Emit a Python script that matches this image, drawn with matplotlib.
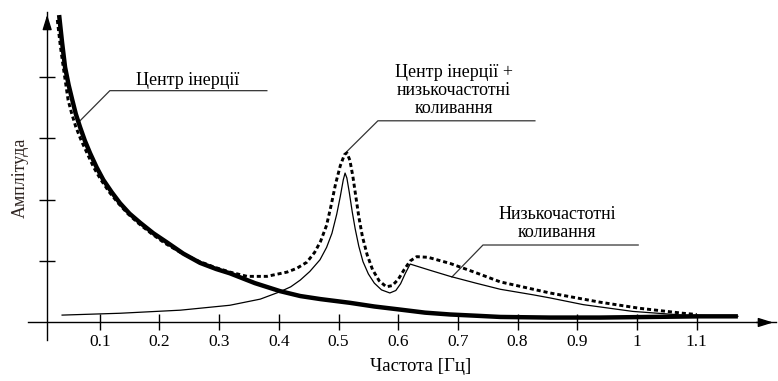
import matplotlib
matplotlib.use("Agg")
import matplotlib.pyplot as plt

plt.rcParams["font.family"] = ["Liberation Serif", "DejaVu Serif"]

# Центр інерції (thick solid)
inertia_f = [0.032, 0.037, 0.042, 0.048, 0.054, 0.060, 0.067, 0.075, 0.084,
             0.095, 0.106, 0.120, 0.134, 0.150, 0.168, 0.190, 0.213, 0.240,
             0.268, 0.295, 0.318, 0.360, 0.402, 0.436, 0.470, 0.519, 0.560,
             0.603, 0.645, 0.687, 0.730, 0.771, 0.854, 0.938, 1.022, 1.106, 1.169]
inertia_a = [5.00, 4.55, 4.15, 3.86, 3.62, 3.39, 3.18, 2.96, 2.75,
             2.52, 2.32, 2.12, 1.94, 1.77, 1.62, 1.45, 1.30, 1.12,
             0.97, 0.87, 0.80, 0.64, 0.51, 0.43, 0.38, 0.32, 0.26,
             0.21, 0.16, 0.13, 0.11, 0.09, 0.08, 0.08, 0.09, 0.10, 0.10]

# Низькочастотні коливання (thin solid)
lowfreq_f = [0.037, 0.134, 0.235, 0.318, 0.369, 0.402, 0.420, 0.436, 0.452,
             0.469, 0.480, 0.489, 0.497, 0.503, 0.508, 0.511, 0.514, 0.518,
             0.523, 0.528, 0.534, 0.541, 0.550, 0.560, 0.572, 0.586, 0.596,
             0.604, 0.612, 0.620, 0.653, 0.687, 0.730, 0.771, 0.826, 0.854,
             0.910, 0.993, 1.077, 1.169]
lowfreq_a = [0.12, 0.15, 0.20, 0.28, 0.38, 0.50, 0.58, 0.69, 0.83,
             1.02, 1.22, 1.45, 1.76, 2.05, 2.32, 2.43, 2.35, 2.12,
             1.80, 1.52, 1.24, 0.99, 0.79, 0.64, 0.53, 0.48, 0.52,
             0.63, 0.80, 0.95, 0.85, 0.75, 0.64, 0.54, 0.45, 0.40,
             0.29, 0.18, 0.12, 0.10]

# Центр інерції + низькочастотні коливання (dashed)
total_f = [0.029, 0.034, 0.039, 0.047, 0.053, 0.060, 0.069, 0.079, 0.090,
           0.102, 0.116, 0.131, 0.147, 0.164, 0.186, 0.209, 0.237, 0.265,
           0.292, 0.318, 0.347, 0.380, 0.414, 0.430, 0.447, 0.460, 0.470,
           0.480, 0.488, 0.495, 0.503, 0.510, 0.514, 0.519, 0.524, 0.529,
           0.534, 0.540, 0.548, 0.557, 0.568, 0.580, 0.590, 0.600, 0.610,
           0.620, 0.631, 0.650, 0.687, 0.730, 0.771, 0.854, 0.938, 1.005,
           1.077, 1.100]
total_a = [4.92, 4.50, 4.15, 3.62, 3.40, 3.18, 2.96, 2.75, 2.52,
           2.32, 2.12, 1.94, 1.77, 1.62, 1.45, 1.29, 1.13, 1.00,
           0.90, 0.82, 0.75, 0.75, 0.82, 0.88, 0.98, 1.14, 1.32,
           1.58, 1.92, 2.25, 2.55, 2.73, 2.76, 2.64, 2.38, 2.05,
           1.72, 1.40, 1.10, 0.86, 0.68, 0.58, 0.60, 0.70, 0.86,
           1.00, 1.07, 1.06, 0.96, 0.81, 0.66, 0.48, 0.33, 0.23,
           0.15, 0.13]

x_ticks = [0.1, 0.2, 0.3, 0.4, 0.5, 0.6, 0.7, 0.8, 0.9, 1.0, 1.1]
x_tick_labels = ["0.1", "0.2", "0.3", "0.4", "0.5", "0.6", "0.7", "0.8", "0.9", "1", "1.1"]
y_ticks = [1, 2, 3, 4]

fig = plt.figure(figsize=(7.78, 3.81), dpi=100)
ax = fig.add_axes([0.036, 0.1076, 0.9614, 0.861])
ax.set_xlim(-0.0201, 1.2328)
ax.set_ylim(-0.285, 5.05)

ax.plot(inertia_f, inertia_a, color="black", lw=3.2, solid_capstyle="butt",
        solid_joinstyle="round", zorder=3)
ax.plot(lowfreq_f, lowfreq_a, color="black", lw=0.9, solid_joinstyle="round", zorder=4)
ax.plot(total_f, total_a, color="black", lw=2.1, linestyle=(0, (1.4, 1.0)), zorder=5)

# axes through the origin with arrows
for side in ("top", "right"):
    ax.spines[side].set_visible(False)
ax.spines["bottom"].set_position(("data", 0))
ax.spines["left"].set_position(("data", 0.012))
ax.spines["bottom"].set_linewidth(1.0)
ax.spines["left"].set_linewidth(1.0)
ax.annotate("", xy=(1.0, 0), xytext=(0.97, 0), xycoords=ax.get_yaxis_transform(),
            arrowprops=dict(arrowstyle="-|>,head_length=0.9,head_width=0.28",
                            color="black", lw=1.0), annotation_clip=False)
ax.annotate("", xy=(0.012, 1.0), xytext=(0.012, 0.95), xycoords=ax.get_xaxis_transform(),
            arrowprops=dict(arrowstyle="-|>,head_length=0.9,head_width=0.28",
                            color="black", lw=1.0), annotation_clip=False)

ax.set_xticks(x_ticks)
ax.set_xticklabels(x_tick_labels)
ax.set_yticks(y_ticks)
ax.set_yticklabels([])
ax.tick_params(direction="inout", length=11, width=1.0, labelsize=12.5, pad=3)

ax.set_xlabel("Частота [Гц]", fontsize=13.5)
ax.xaxis.set_label_coords(0.525, -0.082)
ax.xaxis.label.set_va("center")
ax.set_ylabel("Амплітуда", fontsize=13, color="#2e2420")
ax.yaxis.set_label_coords(-0.0107, 0.494)
ax.yaxis.label.set_va("center")

# callouts
lead = dict(color="#333333", lw=0.9, zorder=2)
ax.plot([0.067, 0.117, 0.380], [3.28, 3.77, 3.77], **lead)
ax.text(0.248, 3.94, "Центр інерції", ha="center", va="center", fontsize=13)

ax.plot([0.514, 0.566, 0.829], [2.78, 3.28, 3.28], **lead)
ax.text(0.693, 3.77, "Центр інерції +\nнизькочастотні\nколивання", ha="center",
        va="center", fontsize=13, linespacing=1.1)

ax.plot([0.690, 0.742, 1.002], [0.74, 1.26, 1.26], **lead)
ax.text(0.866, 1.61, "Низькочастотні\nколивання", ha="center", va="center",
        fontsize=13, linespacing=1.1)

fig.savefig("out.png", dpi=100)
